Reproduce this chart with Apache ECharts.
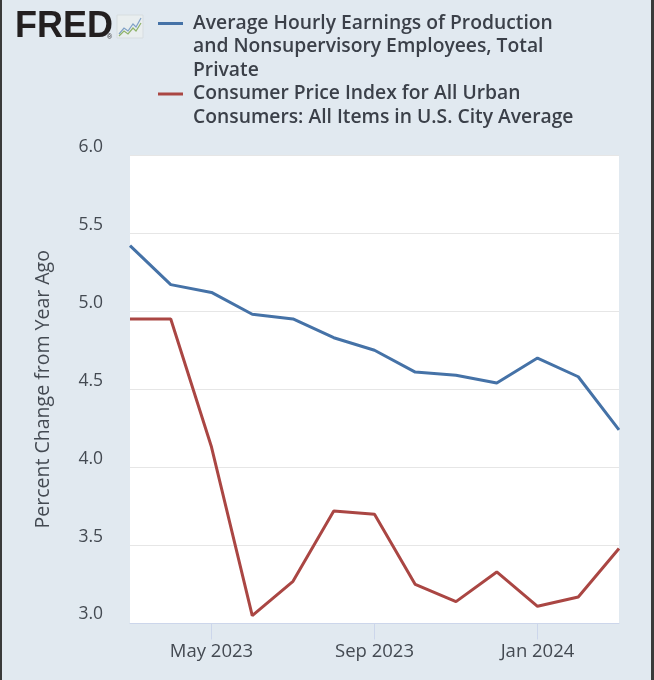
<!DOCTYPE html>
<html>
<head>
<meta charset="utf-8">
<script src="https://cdn.jsdelivr.net/npm/echarts@6/dist/echarts.min.js"></script>
<style>
html,body{margin:0;padding:0;background:#e1e9f0;}
#chart{width:654px;height:680px;}
</style>
</head>
<body>
<div id="chart"></div>
<script>
const months = ['Mar 2023','Apr 2023','May 2023','Jun 2023','Jul 2023','Aug 2023','Sep 2023','Oct 2023','Nov 2023','Dec 2023','Jan 2024','Feb 2024','Mar 2024'];
const earnings = [5.42,5.17,5.12,4.98,4.95,4.83,4.75,4.61,4.59,4.54,4.70,4.58,4.24];
const cpi = [4.95,4.95,4.13,3.05,3.27,3.72,3.70,3.25,3.14,3.33,3.11,3.17,3.48];
const shownTicks = ['May 2023','Sep 2023','Jan 2024'];
const yTicks = [3.0,3.5,4.0,4.5,5.0,5.5,6.0];
const seriesNames = [
  'Average Hourly Earnings of Production\nand Nonsupervisory Employees, Total\nPrivate',
  'Consumer Price Index for All Urban\nConsumers: All Items in U.S. City Average'
];
const yName = 'Percent Change from Year Ago';

const chart = echarts.init(document.getElementById('chart'), null, {renderer:'canvas'});
const LH = 23.5;
const legendText = {fontFamily:'Open Sans', fontSize:19.3, fontWeight:600, color:'#3b4049', lineHeight:LH};
// put the icon beside the first line: pad with leading empty lines so the first line sits at the block's centre
function legendFmt(name){
  const lines = name.split('\n');
  const lead = new Array(lines.length-1).fill('').join('\n');
  return lead + '\n' + lines.map(l=>' '+l).join('\n');
}
const option = {
  backgroundColor:'#e1e9f0',
  animation:false,
  grid:{left:130, right:35, top:155, bottom:56.5, show:true, backgroundColor:'#ffffff', borderWidth:0},
  legend:[
    {data:[seriesNames[0]], formatter:legendFmt,
     orient:'vertical', left:158, top:23.5-(5*LH)/2, padding:0, itemWidth:25, itemHeight:3, itemGap:0,
     icon:'rect', textStyle:legendText, selectedMode:false},
    {data:[seriesNames[1]], formatter:legendFmt,
     orient:'vertical', left:158, top:94-(3*LH)/2, padding:0, itemWidth:25, itemHeight:3, itemGap:0,
     icon:'rect', textStyle:legendText, selectedMode:false}
  ],
  xAxis:{
    type:'category', data:months, boundaryGap:false,
    axisLine:{show:true, lineStyle:{color:'#ccd6eb', width:1}},
    axisTick:{show:true, length:16, lineStyle:{color:'#ccd6eb'}, interval:(i,v)=>shownTicks.includes(v)},
    axisLabel:{interval:(i,v)=>shownTicks.includes(v), margin:19, fontFamily:'Open Sans', fontSize:18.5, color:'#444a52'},
    splitLine:{show:false}
  },
  yAxis:{
    type:'value', min:yTicks[0], max:yTicks[yTicks.length-1], interval:0.5,
    name:yName, nameLocation:'middle', nameGap:77,
    nameTextStyle:{fontFamily:'Open Sans', fontSize:19.5, color:'#444a52'},
    axisLine:{show:false}, axisTick:{show:false},
    axisLabel:{margin:27, fontFamily:'Open Sans', fontSize:17.5, color:'#444a52', verticalAlign:'bottom', lineHeight:16,
      formatter:(v)=> v===yTicks[0] ? '{lo|'+v.toFixed(1)+'}' : v.toFixed(1),
      rich:{lo:{fontFamily:'Open Sans', fontSize:17.5, color:'#444a52', lineHeight:16, padding:[0,0,3,0]}}},
    splitLine:{show:true, lineStyle:{color:'#e6e6e6', width:1}}
  },
  series:[
    {name:seriesNames[0], type:'line', data:earnings, symbol:'none', lineStyle:{color:'#4572a7', width:3}, itemStyle:{color:'#4572a7'}},
    {name:seriesNames[1], type:'line', data:cpi, symbol:'none', lineStyle:{color:'#aa4643', width:3}, itemStyle:{color:'#aa4643'}}
  ],
  graphic:[
    {type:'text', left:15, top:9, style:{text:'FRED', font:'900 36px "Liberation Sans", Arial, sans-serif', fill:'#231f20'}},
    {type:'text', left:107, top:34, style:{text:'®', font:'7px "Liberation Sans", sans-serif', fill:'#231f20'}},
    {type:'rect', shape:{x:117, y:15, width:26, height:23}, style:{fill:'#e9eeef', stroke:'#d7dde0', lineWidth:1}},
    {type:'polyline', shape:{points:[[119,34],[124,28],[128,31],[133,24],[136,27],[141,18]]}, style:{stroke:'#7fa0c6', lineWidth:1.2, fill:null}},
    {type:'polyline', shape:{points:[[119,36],[124,31],[128,34],[133,28],[136,31],[141,23]]}, style:{stroke:'#8fb36a', lineWidth:1.2, fill:null}},
    {type:'rect', shape:{x:0, y:0, width:2, height:680}, style:{fill:'#3a3a3a'}},
    {type:'rect', shape:{x:651, y:0, width:3, height:680}, style:{fill:'#3a3a3a'}}
  ]
};
chart.setOption(option);
</script>
</body>
</html>
